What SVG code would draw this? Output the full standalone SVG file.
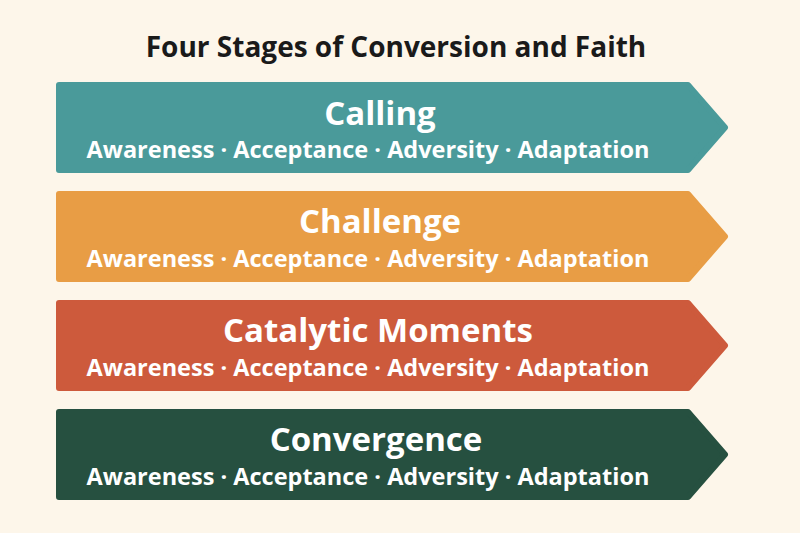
<svg xmlns="http://www.w3.org/2000/svg" width="800" height="533" viewBox="0 0 800 533">
<style>
.t{font-family:"Open Sans","Liberation Sans",sans-serif;font-weight:700;text-anchor:middle}
.h{fill:#fff;font-size:33px}
.s{fill:#fff;font-size:23.5px}
.b{stroke-linejoin:round;stroke-width:6}
</style>
<rect width="800" height="533" fill="#FDF6EA"/>
<text class="t" x="396" y="57" font-size="28" fill="#1a1a1a">Four Stages of Conversion and Faith</text>
<g id="calling"><path class="b" d="M59,85 H688 L725,127.5 L688,170 H59 Z" fill="#4A9A9A" stroke="#4A9A9A"/><text class="t h" x="380" y="125">Calling</text><text class="t s" x="368" y="158">Awareness · Acceptance · Adversity · Adaptation</text></g>
<g id="challenge"><path class="b" d="M59,194 H688 L725,236.5 L688,279 H59 Z" fill="#E89D45" stroke="#E89D45"/><text class="t h" x="380" y="233">Challenge</text><text class="t s" x="368" y="267">Awareness · Acceptance · Adversity · Adaptation</text></g>
<g id="catalytic"><path class="b" d="M59,303 H688 L725,345.5 L688,388 H59 Z" fill="#CD5A3C" stroke="#CD5A3C"/><text class="t h" x="378" y="342">Catalytic Moments</text><text class="t s" x="368" y="376">Awareness · Acceptance · Adversity · Adaptation</text></g>
<g id="convergence"><path class="b" d="M59,412 H688 L725,454.5 L688,497 H59 Z" fill="#265040" stroke="#265040"/><text class="t h" x="376" y="451">Convergence</text><text class="t s" x="368" y="485">Awareness · Acceptance · Adversity · Adaptation</text></g>
<g id="connectors"/>
</svg>
